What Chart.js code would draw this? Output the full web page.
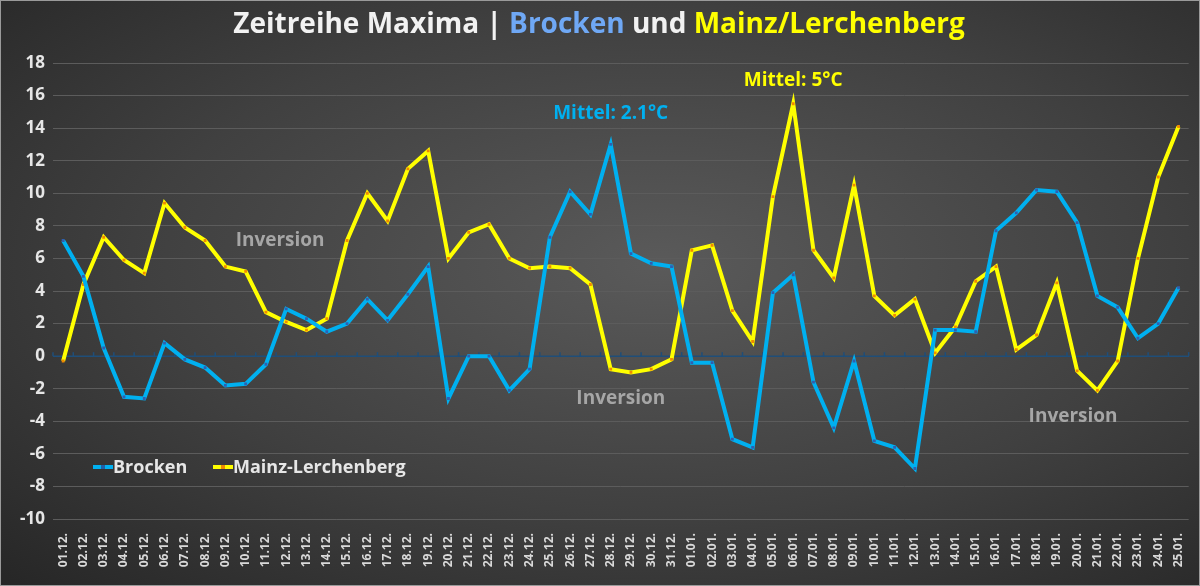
<!DOCTYPE html>
<html><head><meta charset="utf-8">
<script src="https://cdn.jsdelivr.net/npm/chart.js@4"></script>
<style>
html,body{margin:0;padding:0;}
body{width:1200px;height:586px;background:radial-gradient(ellipse at 55% 45%,#5a5a5a 0%,#404040 55%,#262626 100%);}
#wrap{position:absolute;left:0;top:0;width:1198px;height:584px;border:1px solid #9a9a9a;}
</style></head><body>
<div id="wrap"><canvas id="c" width="1198" height="584"></canvas></div>
<script>
const categories=["01.12.","02.12.","03.12.","04.12.","05.12.","06.12.","07.12.","08.12.","09.12.","10.12.","11.12.","12.12.","13.12.","14.12.","15.12.","16.12.","17.12.","18.12.","19.12.","20.12.","21.12.","22.12.","23.12.","24.12.","25.12.","26.12.","27.12.","28.12.","29.12.","30.12.","31.12.","01.01.","02.01.","03.01.","04.01.","05.01.","06.01.","07.01.","08.01.","09.01.","10.01.","11.01.","12.01.","13.01.","14.01.","15.01.","16.01.","17.01.","18.01.","19.01.","20.01.","21.01.","22.01.","23.01.","24.01.","25.01."];
const brocken=[7.1,4.9,0.5,-2.5,-2.6,0.8,-0.2,-0.7,-1.8,-1.7,-0.5,2.9,2.3,1.5,2.0,3.5,2.2,3.8,5.5,-2.6,0,0,-2.1,-0.8,7.3,10.1,8.7,13.0,6.3,5.7,5.5,-0.4,-0.4,-5.1,-5.6,3.9,5.0,-1.6,-4.4,-0.3,-5.2,-5.6,-6.9,1.6,1.6,1.5,7.7,8.8,10.2,10.1,8.2,3.7,3.0,1.1,2.0,4.2];
const mainz=[-0.3,4.4,7.3,5.9,5.1,9.4,7.9,7.1,5.5,5.2,2.7,2.1,1.6,2.3,7.1,10.0,8.3,11.5,12.6,6.0,7.6,8.1,6.0,5.4,5.5,5.4,4.4,-0.8,-1.0,-0.8,-0.2,6.5,6.8,2.8,0.9,9.8,15.5,6.5,4.8,10.5,3.7,2.5,3.5,0.2,1.8,4.6,5.5,0.4,1.3,4.5,-0.9,-2.1,-0.3,6.0,11.0,14.1];
const yTicks=[18,16,14,12,10,8,6,4,2,0,-2,-4,-6,-8,-10];
const notes=[{t:"Inversion",i:10.7,y:7.1,c:"#a6a6a6"},{t:"Inversion",i:27.5,y:-2.6,c:"#a6a6a6"},{t:"Inversion",i:49.8,y:-3.7,c:"#a6a6a6"},{t:"Mittel: 2.1°C",i:27,y:14.9,c:"#00b0f0"},{t:"Mittel: 5°C",i:36,y:16.9,c:"#ffff00"}];

const deco={id:'deco',
 beforeDatasetsDraw(ch){const {ctx,scales:{x,y}}=ch;ctx.save();
  ctx.strokeStyle='#1f4e79';ctx.lineWidth=1.5;const y0=y.getPixelForValue(0);
  ctx.beginPath();ctx.moveTo(ch.chartArea.left,y0);ctx.lineTo(ch.chartArea.right,y0);ctx.stroke();
  for(let i=0;i<=categories.length;i++){const px=ch.chartArea.left+i*(ch.chartArea.right-ch.chartArea.left)/categories.length;ctx.beginPath();ctx.moveTo(px,y0);ctx.lineTo(px,y0-4);ctx.stroke();}
  ctx.restore();},
 afterDraw(ch){const {ctx,scales:{x,y}}=ch;ctx.save();
  ctx.font='bold 19px "Open Sans", sans-serif';ctx.textAlign='center';ctx.textBaseline='middle';
  notes.forEach(n=>{const px=x.getPixelForValue(0)+n.i*(x.getPixelForValue(1)-x.getPixelForValue(0));ctx.fillStyle=n.c;ctx.fillText(n.t,px,y.getPixelForValue(n.y));});
  const parts=[["Zeitreihe Maxima | ","#f2f2f2"],["Brocken","#6fa8f5"],[" und ","#f2f2f2"],["Mainz/Lerchenberg","#ffff00"]];
  ctx.font='bold 28px "Open Sans", sans-serif';ctx.textAlign='left';
  let w=parts.reduce((s,p)=>s+ctx.measureText(p[0]).width,0);let sx=598-w/2;
  parts.forEach(p=>{ctx.fillStyle=p[1];ctx.fillText(p[0],sx,24);sx+=ctx.measureText(p[0]).width;});
  ctx.font='bold 18px "Open Sans", sans-serif';
  const leg=[["Brocken","#00b0f0","#1f5fa8",92],["Mainz-Lerchenberg","#ffff00","#f08a00",212]];
  leg.forEach(l=>{const ly=466;ctx.strokeStyle=l[1];ctx.lineWidth=4;ctx.beginPath();ctx.moveTo(l[3],ly);ctx.lineTo(l[3]+20,ly);ctx.stroke();
   ctx.fillStyle=l[2];ctx.fillRect(l[3]+8,ly-2,4,4);ctx.fillStyle='#e6e6e6';ctx.fillText(l[0],l[3]+20,ly+1);});
  ctx.restore();}};

new Chart(document.getElementById('c'),{type:'line',
 data:{labels:categories,datasets:[
  {label:'Brocken',data:brocken,borderColor:'#00b0f0',borderWidth:4,pointStyle:'rect',pointRadius:2,pointBackgroundColor:'#2f5fb0',pointBorderColor:'#2f5fb0',pointBorderWidth:0,tension:0},
  {label:'Mainz-Lerchenberg',data:mainz,borderColor:'#ffff00',borderWidth:4,pointStyle:'rect',pointRadius:2,pointBackgroundColor:'#f08a00',pointBorderColor:'#f08a00',pointBorderWidth:0,tension:0}]},
 options:{responsive:false,animation:false,
  layout:{padding:{left:0,right:9,top:62,bottom:0}},
  plugins:{legend:{display:false},tooltip:{enabled:false}},
  scales:{
   x:{offset:true,grid:{display:false},border:{display:false},
    ticks:{color:'#d9d9d9',font:{family:'"Open Sans", sans-serif',size:12,weight:'bold'},minRotation:90,maxRotation:90,autoSkip:false,padding:6},
    afterFit(s){s.height=66;}},
   y:{min:-10,max:18,grid:{color:'#5c5c5c',lineWidth:1,drawTicks:false},border:{display:false},
    afterBuildTicks(s){s.ticks=yTicks.map(v=>({value:v}));},
    ticks:{color:'#e6e6e6',font:{family:'"Open Sans", sans-serif',size:17,weight:'bold'},padding:8},
    afterFit(s){s.width=52;}}}},
 plugins:[deco]});
</script></body></html>
